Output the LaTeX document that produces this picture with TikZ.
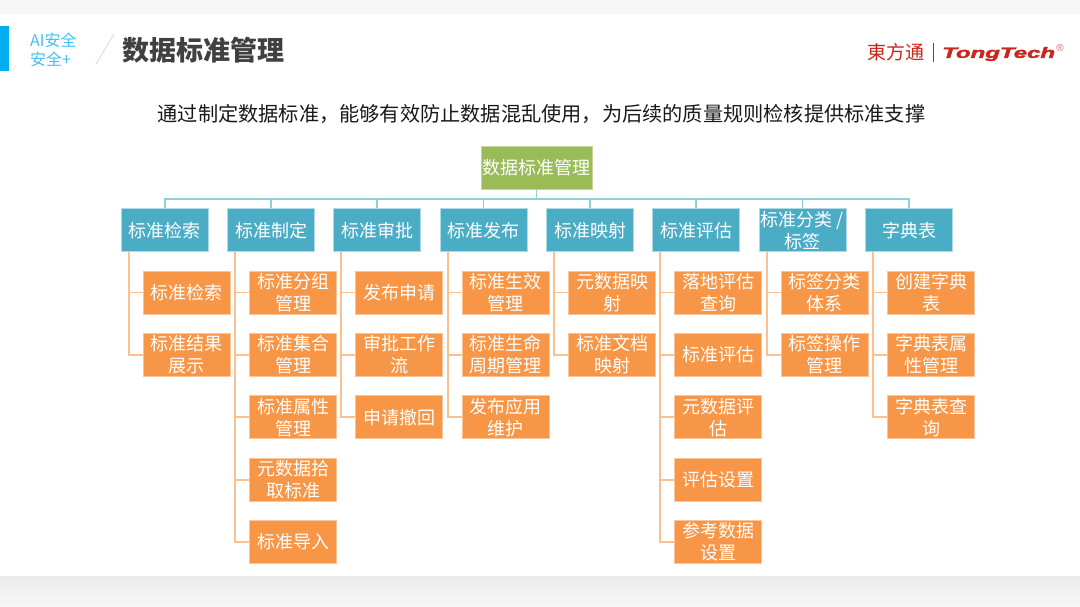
\documentclass[tikz,border=0pt]{standalone}
\usepackage{graphicx}
\usepackage{fontspec}
\setmainfont{Noto Sans CJK SC}
\newfontfamily\latinbold{Liberation Sans}
\newfontfamily\brandfont[BoldItalicFeatures={FakeBold=2}]{Liberation Sans}
\usetikzlibrary{calc}
\definecolor{tealbox}{HTML}{4BACC6}
\definecolor{orangebox}{HTML}{F79646}
\definecolor{greenbox}{HTML}{9BBB59}
\definecolor{busline}{HTML}{93CDDD}
\definecolor{spine}{HTML}{FAC090}
\definecolor{accent}{HTML}{00AEEF}
\definecolor{brandred}{HTML}{C9261C}
\tikzset{
  x=1pt,y=-1pt,
  boxbase/.style={minimum width=87pt,minimum height=43pt,inner sep=0pt,text=white,
    font=\fontsize{18}{22}\selectfont,align=center,line width=0.8pt},
  rootbox/.style={boxbase,fill=greenbox,draw=greenbox!60!white,minimum width=111pt},
  groupbox/.style={boxbase,fill=tealbox,draw=tealbox!45!white},
  leafbox/.style={boxbase,fill=orangebox,draw=orangebox!55!white},
  busedge/.style={draw=busline,line width=1.9pt},
  leafedge/.style={draw=spine,line width=1.9pt},
}
% one column: group box, its leaf boxes, and the spine that links them
\newcommand{\groupcolumn}[4]{%
  \node[groupbox] (g#1) at (#2,230.2) {#3};
  \draw[busedge] (root.south) -- ++(0,9.5) -| (g#1.north);
  \foreach \leaftext [count=\r from 0] in {#4} {
    \node[leafbox] (l#1r\r) at ($(g#1)+(22,{62.4*\r+62.3})$) {\leaftext};
    \draw[leafedge] ($(g#1.south west)+(8,0)$) |- (l#1r\r.west);
  }%
}
\begin{document}
\begin{tikzpicture}
\useasboundingbox (0,0) rectangle (1080,607);
% page background with header strip and soft lower shadow
\fill[white] (0,0) rectangle (1080,607);
\fill[black!3] (0,0) rectangle (1080,14);
\shade[top color=black!8,bottom color=black!3] (0,576) rectangle (1080,607);

% header
\fill[accent] (0,26) rectangle (9,71);
\node[anchor=west,text=accent!75!white,font=\fontsize{16}{19}\selectfont,align=left,inner sep=0pt] (tag) at (30,50) {AI安全\\安全+};
\coordinate (slashA) at (96,64);
\coordinate (slashB) at (114,34);
\draw[black!15,line width=0.8pt] (slashA) -- (slashB);
\node[anchor=west,inner sep=0pt,text=black!75,font=\fontsize{27}{30}\bfseries\selectfont] (title) at (122,50) {数据标准管理};

% brand mark
\node[text=brandred,font=\fontsize{19}{22}\selectfont,inner sep=0pt] (brandcn) at (896,52) {東方通};
\fill[brandred] (933,43) rectangle (934.4,62);
\node[anchor=west,text=brandred,inner sep=0pt,font=\brandfont\fontsize{15}{18}\bfseries\itshape\selectfont] (brandlat) at (942,54) {\scalebox{1.6}[1]{TongTech}};
\node[text=brandred!70!white,inner sep=0pt,font=\latinbold\fontsize{10}{12}\selectfont] (brandreg) at (1060,48) {®};

% lead sentence
\node[inner sep=0pt,text=black!90,font=\fontsize{20.2}{24}\selectfont] (lead) at (541.5,114)
  {通过制定数据标准，能够有效防止数据混乱使用，为后续的质量规则检核提供标准支撑};

% tree
\node[rootbox] (root) at (536.5,168) {数据标准管理};
\groupcolumn{a}{164.8}{标准检索}{标准检索,标准结果\\展示}
\groupcolumn{b}{271}{标准制定}{标准分组\\管理,标准集合\\管理,标准属性\\管理,元数据拾\\取标准,标准导入}
\groupcolumn{c}{377.2}{标准审批}{发布申请,审批工作\\流,申请撤回}
\groupcolumn{d}{483.5}{标准发布}{标准生效\\管理,标准生命\\周期管理,发布应用\\维护}
\groupcolumn{e}{590}{标准映射}{元数据映\\射,标准文档\\映射}
\groupcolumn{f}{696}{标准评估}{落地评估\\查询,标准评估,元数据评\\估,评估设置,参考数据\\设置}
\groupcolumn{g}{802.5}{标准分类 /\\标签}{标签分类\\体系,标签操作\\管理}
\groupcolumn{h}{909}{字典表}{创建字典\\表,字典表属\\性管理,字典表查\\询}
\end{tikzpicture}
\end{document}
